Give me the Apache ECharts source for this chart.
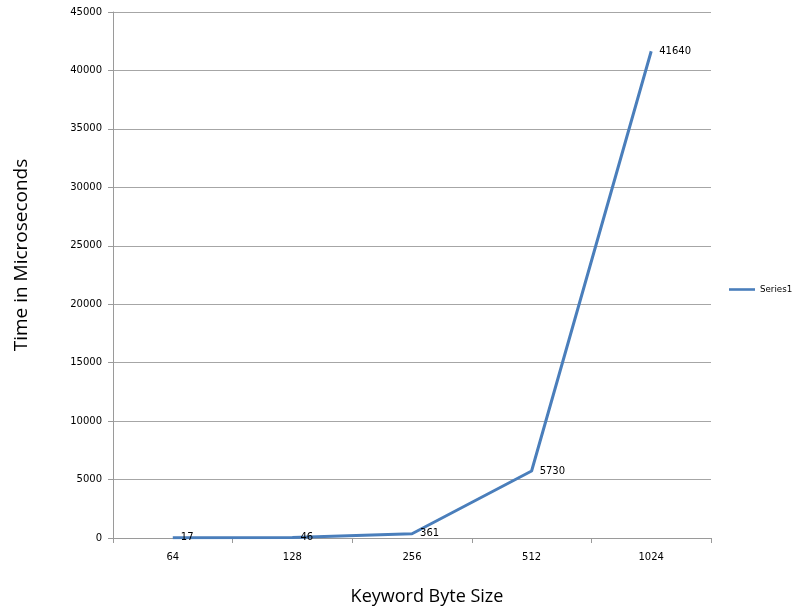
<!DOCTYPE html>
<html>
<head>
<meta charset="utf-8">
<script src="https://cdn.jsdelivr.net/npm/echarts@6/dist/echarts.min.js"></script>
<style>
  html, body { margin: 0; padding: 0; background: #fff; }
  #chart { width: 794px; height: 611px; }
</style>
</head>
<body>
<div id="chart"></div>
<script>
// Lookup time by keyword size
const categories = ['64', '128', '256', '512', '1024'];
const timeValues = [17, 46, 361, 5730, 41640];
const seriesName = 'Series1';
const yTicks = { min: 0, max: 45000, interval: 5000 };

const lineBlue = '#4a7ebb';
const axisGrey = '#9a9a9a';
const chart = echarts.init(document.getElementById('chart'));
chart.setOption({
  animation: false,
  backgroundColor: '#fff',
  grid: { left: 113, top: 12, right: 83, bottom: 70, containLabel: false },
  legend: {
    data: [{ name: seriesName, icon: 'path://M0,0 L30,0 L30,3 L0,3 Z',
             itemStyle: { color: lineBlue, opacity: 1 } }],
    left: 729, top: 285, padding: 0, itemWidth: 26, itemHeight: 3, itemGap: 2,
    textStyle: { fontFamily: 'DejaVu Sans', fontSize: 8.7, color: '#000' }
  },
  xAxis: {
    type: 'category', data: categories, boundaryGap: true,
    name: 'Keyword Byte Size', nameLocation: 'middle', nameGap: 50,
    nameTextStyle: { fontFamily: 'Open Sans', fontSize: 18, color: '#000', padding: [0, 0, 0, 30] },
    axisLine: { lineStyle: { color: axisGrey, width: 1 } },
    axisTick: { show: true, length: 5, alignWithLabel: false, lineStyle: { color: axisGrey } },
    axisLabel: { fontFamily: 'DejaVu Sans', fontSize: 10, color: '#000', margin: 14 },
    splitLine: { show: false }
  },
  yAxis: {
    type: 'value', min: yTicks.min, max: yTicks.max, interval: yTicks.interval,
    name: 'Time in Microseconds', nameLocation: 'middle', nameGap: 82, nameRotate: 90,
    nameTextStyle: { fontFamily: 'Open Sans', fontSize: 19, color: '#000', padding: [0, 0, 0, 40] },
    axisLine: { show: true, lineStyle: { color: axisGrey, width: 1 } },
    axisTick: { show: true, length: 5, lineStyle: { color: axisGrey } },
    axisLabel: { fontFamily: 'DejaVu Sans', fontSize: 10, color: '#000', margin: 11, formatter: v => String(v) },
    splitLine: { show: true, lineStyle: { color: '#a6a6a6', width: 1 } }
  },
  series: [{
    name: seriesName, type: 'line', data: timeValues,
    symbol: 'circle', symbolSize: 0.1, showSymbol: true, smooth: false,
    lineStyle: { color: lineBlue, width: 3 },
    itemStyle: { color: lineBlue },
    label: {
      show: true, position: 'right', distance: 8,
      fontFamily: 'DejaVu Sans', fontSize: 10, color: '#000'
    }
  }]
});
</script>
</body>
</html>
